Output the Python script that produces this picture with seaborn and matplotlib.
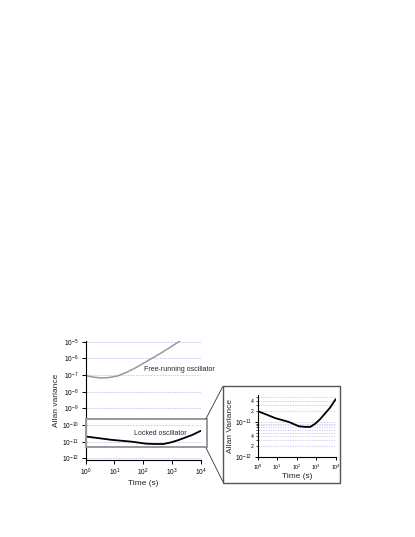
import numpy as np
import pandas as pd
import matplotlib
matplotlib.use("Agg")
import matplotlib.pyplot as plt
import matplotlib.ticker as mticker
from matplotlib.patches import Rectangle
from matplotlib.lines import Line2D
import seaborn as sns

# ---- data ----
free_log_tau = [0.0, 0.3, 0.55, 0.8, 1.1, 1.4, 1.7, 2.0, 2.3, 2.6, 2.9, 3.3]
free_log_avar = [-7.04, -7.13, -7.18, -7.15, -7.06, -6.85, -6.6, -6.3, -6.0, -5.7, -5.38, -4.93]
locked_log_tau = [0.0, 0.5, 0.9, 1.6, 2.1, 2.4, 2.7, 2.95, 3.2, 3.45, 3.7, 4.0]
locked_log_avar = [-10.69, -10.8, -10.89, -11.0, -11.12, -11.14, -11.14, -11.05, -10.92, -10.76, -10.6, -10.35]
main_yticks = [1e-12, 1e-11, 1e-10, 1e-9, 1e-8, 1e-7, 1e-6, 1e-5]
xticks = [1, 10, 100, 1000, 10000]

free = pd.DataFrame({"tau": np.power(10.0, free_log_tau), "avar": np.power(10.0, free_log_avar)})
locked = pd.DataFrame({"tau": np.power(10.0, locked_log_tau), "avar": np.power(10.0, locked_log_avar)})

sns.set_style("white")
plt.rcParams["font.family"] = ["Liberation Sans", "DejaVu Sans"]
plt.rcParams["mathtext.fontset"] = "custom"
plt.rcParams["mathtext.rm"] = "Liberation Sans"
plt.rcParams["mathtext.it"] = "Liberation Sans"

W, H = 415, 537
fig = plt.figure(figsize=(W / 100, H / 100), dpi=100)
fig.patch.set_facecolor("white")


def px_axes(left, top, right, bottom):
    return fig.add_axes([left / W, 1 - bottom / H, (right - left) / W, (bottom - top) / H])


def fx(x):
    return x / W


def fy(y):
    return 1 - y / H


grid_col = "#c0c0ee"

# ---- main axes ----
ax = px_axes(85.7, 340.9, 200.7, 460)
ax.set_facecolor("none")
sns.lineplot(data=free, x="tau", y="avar", ax=ax, color="#999999", lw=1.1)
sns.lineplot(data=locked, x="tau", y="avar", ax=ax, color="black", lw=1.3)
ax.set_xscale("log")
ax.set_yscale("log")
ax.set_xlim(1, 1e4)
ax.set_ylim(10 ** -12.1, 10 ** -4.95)
ax.set_xticks(xticks)
ax.set_yticks(main_yticks)
ax.xaxis.set_minor_locator(mticker.NullLocator())
ax.yaxis.set_minor_locator(mticker.NullLocator())
ax.xaxis.set_major_formatter(mticker.LogFormatterMathtext())
ax.yaxis.set_major_formatter(mticker.LogFormatterMathtext())
for s in ["top", "right"]:
    ax.spines[s].set_visible(False)
for s in ["left", "bottom"]:
    ax.spines[s].set_color("black")
    ax.spines[s].set_linewidth(0.8)
ax.tick_params(axis="both", which="major", direction="out", length=3, width=0.7,
               labelsize=4.8, pad=2, colors="black", left=True, bottom=True)
ax.yaxis.grid(True, which="major", color=grid_col, linestyle=(0, (2, 1.5)), lw=0.6)
ax.set_xlabel("Time (s)", fontsize=6, labelpad=1.5)
ax.set_ylabel("Allan variance", fontsize=6, labelpad=1.5)
ax.text(10 ** 2.03, 10 ** -6.66, "Free-running oscillator", fontsize=5, ha="left", va="center")
ax.text(10 ** 2.61, 10 ** -10.5, "Locked oscillator", fontsize=5, ha="center", va="center")
ax.add_patch(Rectangle((1, 10 ** -11.34), 10 ** 4.21 - 1, 10 ** -9.64 - 10 ** -11.34,
                       fill=False, edgecolor="#999999", lw=1.4, clip_on=False, zorder=5))

# ---- inset frame and connectors ----
fig.patches.append(Rectangle((fx(222.8), fy(482.5)), fx(340) - fx(222.8), fy(386.3) - fy(482.5),
                             transform=fig.transFigure, fill=False, edgecolor="#555555", lw=1.0))
fig.lines.append(Line2D([fx(206), fx(222.8)], [fy(418.7), fy(386.5)], transform=fig.transFigure,
                        color="#333333", lw=0.6))
fig.lines.append(Line2D([fx(206), fx(222.8)], [fy(447.8), fy(481.5)], transform=fig.transFigure,
                        color="#333333", lw=0.6))

# ---- inset axes ----
ia = px_axes(257.7, 395, 335.7, 457)
ia.set_facecolor("none")
sns.lineplot(data=locked, x="tau", y="avar", ax=ia, color="black", lw=1.3)
ia.set_xscale("log")
ia.set_yscale("log")
ia.set_xlim(1, 1e4)
ia.set_ylim(1e-12, 10 ** -10.23)
ia.set_xticks(xticks)
ia.xaxis.set_minor_locator(mticker.NullLocator())
ia.xaxis.set_major_formatter(mticker.LogFormatterMathtext())
ia.yaxis.set_major_locator(mticker.LogLocator(base=10))
ia.yaxis.set_major_formatter(mticker.LogFormatterMathtext())
ia.yaxis.set_minor_locator(mticker.LogLocator(base=10, subs=np.arange(2, 10)))


def minor_fmt(v, pos):
    m = v / 10 ** np.floor(np.log10(v) + 1e-9)
    m = int(round(m))
    return str(m) if m in (2, 4) else ""


ia.yaxis.set_minor_formatter(mticker.FuncFormatter(minor_fmt))
for s in ["top", "right"]:
    ia.spines[s].set_visible(False)
for s in ["left", "bottom"]:
    ia.spines[s].set_color("black")
    ia.spines[s].set_linewidth(0.8)
ia.tick_params(axis="both", which="major", direction="out", length=2.5, width=0.7,
               labelsize=4.8, pad=1.5, colors="black", left=True, bottom=True)
ia.tick_params(axis="x", which="major", labelsize=3.8)
ia.tick_params(axis="y", which="minor", direction="out", length=1.5, width=0.5,
               labelsize=3.6, pad=1.5, colors="black", left=True)
ia.yaxis.grid(True, which="both", color=grid_col, linestyle=(0, (2, 1.5)), lw=0.5)
ia.set_xlabel("Time (s)", fontsize=6, labelpad=0.5)
ia.set_ylabel("Allan Variance", fontsize=6, labelpad=1)

fig.savefig("out.png", dpi=100)
